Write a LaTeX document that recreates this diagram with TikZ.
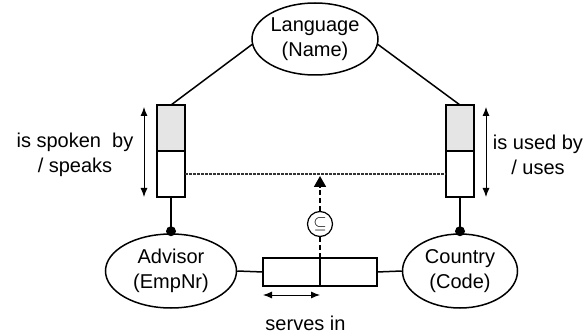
\documentclass[tikz,border=0pt]{standalone}
\usepackage{fontspec}
\setmainfont{Liberation Sans}
\usetikzlibrary{arrows.meta,shapes.geometric}
\begin{document}
\begin{tikzpicture}[x=1pt,y=-1pt,
  ent/.style={draw,ellipse,line width=1.5pt,inner sep=0pt,minimum height=74pt,align=center,font=\fontsize{20}{25}\selectfont},
  rolebox/.style={draw,line width=1.6pt,inner sep=0pt,outer sep=0pt},
  lab/.style={align=center,font=\fontsize{20}{25}\selectfont},
  conn/.style={line width=1.5pt},
  span/.style={line width=0.9pt,{Latex[length=9pt,width=7pt]}-{Latex[length=9pt,width=7pt]}},
  dotline/.style={line width=1.5pt,black!80,dash pattern=on 2.5pt off 1.5pt},
  subdash/.style={line width=1.8pt,dash pattern=on 5pt off 3pt}]
\useasboundingbox (0,0) rectangle (587,334);

% entities
\node[ent,minimum width=126pt,minimum height=72pt] (lang) at (315,39) {Language\\(Name)};
\node[ent,minimum width=131pt] (adv) at (171,271) {Advisor\\(EmpNr)};
\node[ent,minimum width=115pt] (cty) at (460,271) {Country\\(Code)};

% vertical fact type boxes
\node[rolebox,fill=black!10,minimum width=28pt,minimum height=46pt] (l1) at (171,128) {};
\node[rolebox,minimum width=28pt,minimum height=46pt] (l2) at (171,174) {};
\node[rolebox,fill=black!10,minimum width=28pt,minimum height=46pt] (r1) at (460,128) {};
\node[rolebox,minimum width=28pt,minimum height=46pt] (r2) at (460,174) {};

% horizontal fact type box
\node[rolebox,minimum width=57pt,minimum height=28pt] (m1) at (291.5,272) {};
\node[rolebox,minimum width=57pt,minimum height=28pt] (m2) at (348.5,272) {};

% subset circle
\node[draw,circle,line width=1.2pt,minimum size=25pt,inner sep=0pt,font=\fontsize{19}{19}\selectfont] (sub) at (320,224) {$\subseteq$};

% connectors
\draw[conn] (lang.185) -- (l1.north);
\draw[conn] (lang.-5) -- (r1.north);
\draw[conn] (l2.south) -- (adv.north);
\draw[conn] (r2.south) -- (cty.north);
\draw[conn] (adv.east) -- (m1.west);
\draw[conn] (m2.east) -- (cty.west);
\fill ([yshift=2pt]adv.north) circle (5pt);
\fill ([yshift=2pt]cty.north) circle (5pt);

% dotted join line
\draw[dotline] (l2.east) -- (r2.west);

% subset constraint
\draw[subdash] (m1.north east) -- (sub.south);
\draw[subdash,-{Triangle[length=11pt,width=12pt]},shorten >=2pt] (sub.north) -- (sub.north |- l2.east);

% span arrows
\coordinate (la1) at (144,107);
\coordinate (la2) at (144,197);
\coordinate (ra1) at (486,107);
\coordinate (ra2) at (486,197);
\coordinate (ma1) at (263,295);
\coordinate (ma2) at (320,295);
\draw[span] (la1) -- (la2);
\draw[span] (ra1) -- (ra2);
\draw[span] (ma1) -- (ma2);

% labels
\node[lab] (llab) at (75,155) {is spoken\ \ by\\/ speaks};
\node[lab] (rlab) at (538,155) {is used by\\/ uses};
\node[lab,anchor=base] (mlab) at (305.5,330) {serves in};
\end{tikzpicture}
\end{document}
